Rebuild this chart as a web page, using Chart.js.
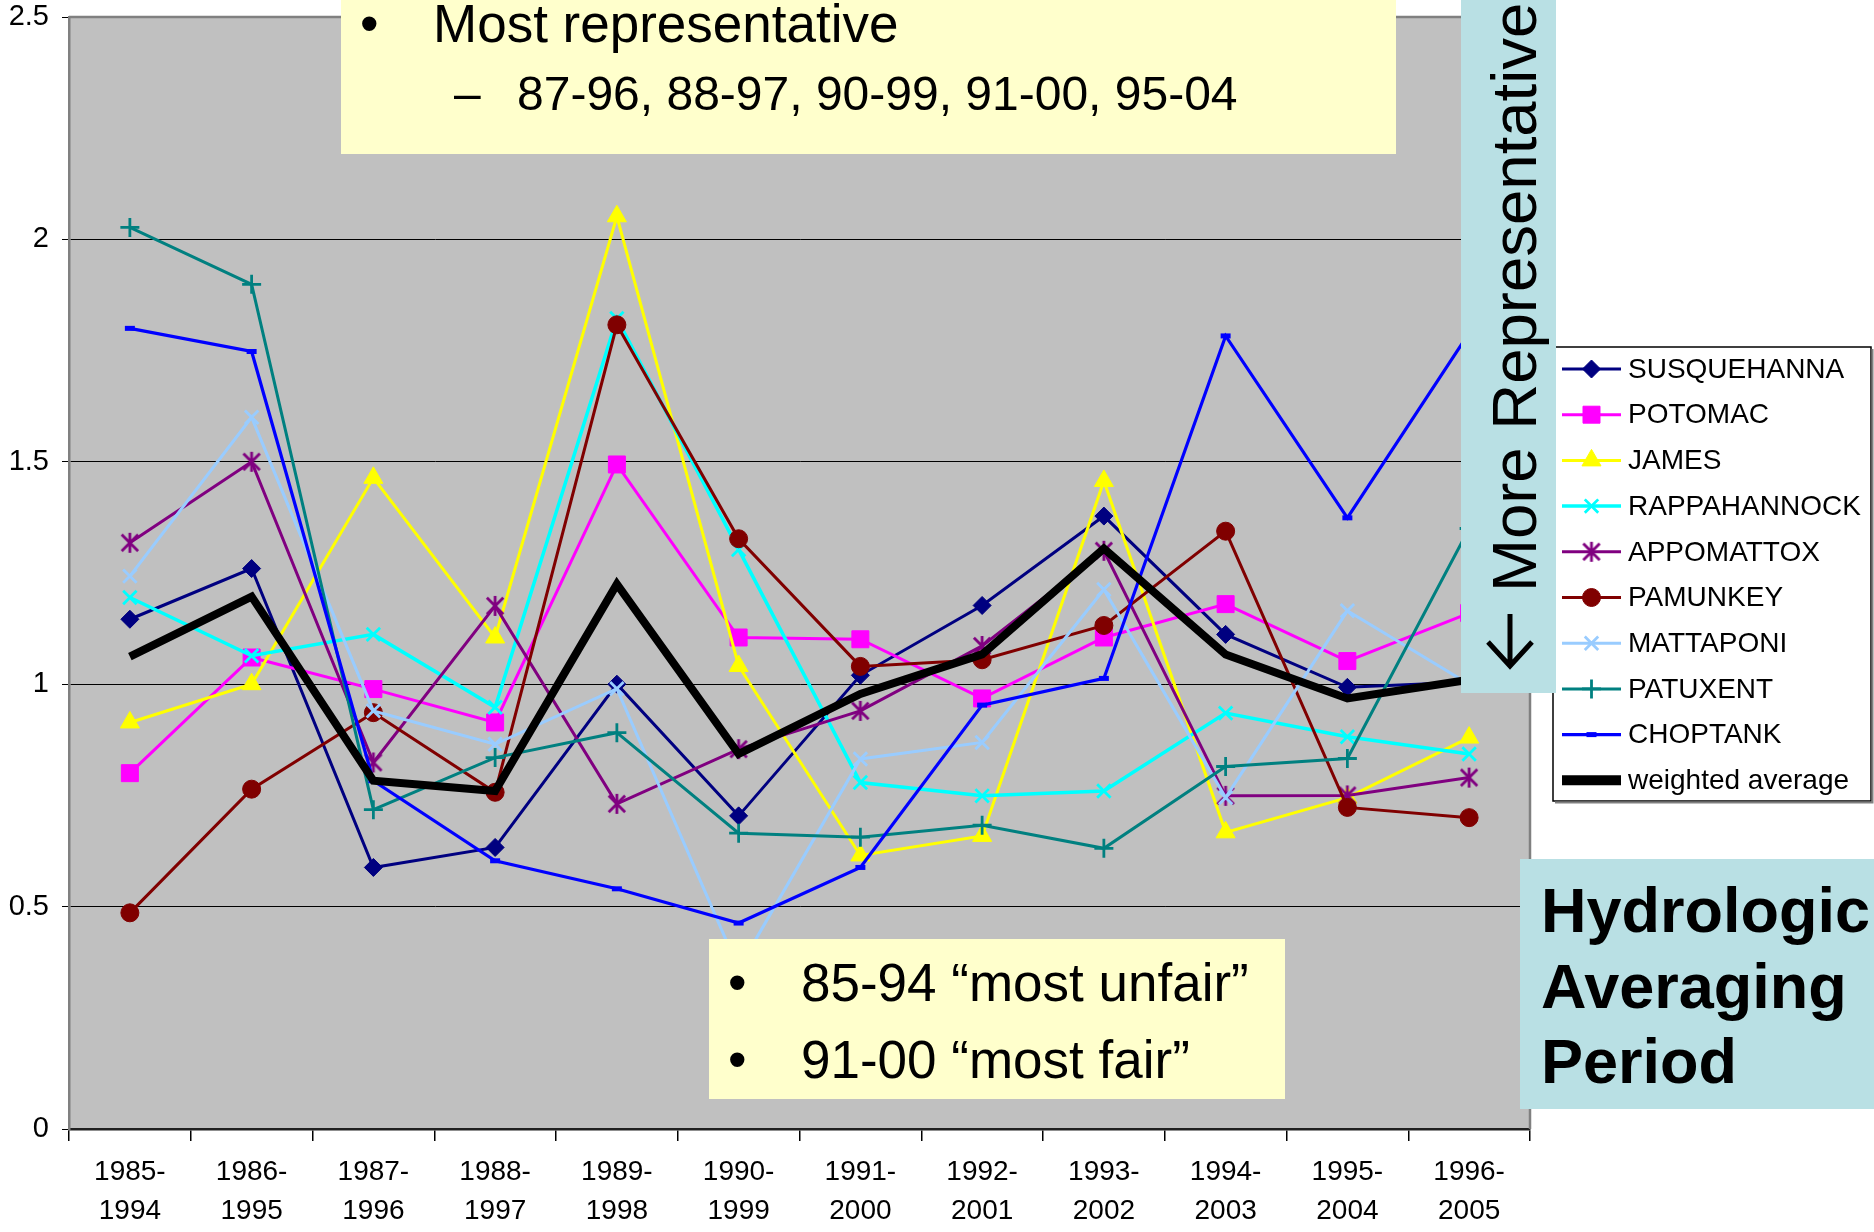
<!DOCTYPE html>
<html>
<head>
<meta charset="utf-8">
<script src="https://cdn.jsdelivr.net/npm/chart.js"></script>
<style>
html,body{margin:0;padding:0;background:#ffffff;}
#wrap{width:1874px;height:1232px;position:relative;overflow:hidden;}
canvas{display:block;}
</style>
</head>
<body>
<div id="wrap"><canvas id="c" width="1874" height="1232"></canvas></div>
<script>
// ---------------- DATA ----------------
const categories = [
  ['1985-','1994'],['1986-','1995'],['1987-','1996'],['1988-','1997'],
  ['1989-','1998'],['1990-','1999'],['1991-','2000'],['1992-','2001'],
  ['1993-','2002'],['1994-','2003'],['1995-','2004'],['1996-','2005']
];
const seriesNames = ['SUSQUEHANNA','POTOMAC','JAMES','RAPPAHANNOCK','APPOMATTOX','PAMUNKEY','MATTAPONI','PATUXENT','CHOPTANK','weighted average'];
const susquehanna  = [1.146, 1.260, 0.588, 0.633, 1.000, 0.704, 1.020, 1.177, 1.378, 1.112, 0.993, 1.005];
const potomac      = [0.800, 1.060, 0.989, 0.914, 1.494, 1.105, 1.101, 0.968, 1.105, 1.180, 1.052, 1.160];
const james        = [0.914, 1.000, 1.464, 1.105, 2.052, 1.041, 0.615, 0.659, 1.457, 0.667, 0.745, 0.880];
const rappahannock = [1.195, 1.064, 1.112, 0.948, 1.822, 1.303, 0.779, 0.749, 0.760, 0.935, 0.882, 0.843];
const appomattox   = [1.318, 1.500, 0.824, 1.176, 0.731, 0.854, 0.940, 1.086, 1.300, 0.749, 0.750, 0.790];
const pamunkey     = [0.486, 0.764, 0.936, 0.757, 1.808, 1.327, 1.040, 1.055, 1.132, 1.344, 0.723, 0.700];
const mattaponi    = [1.243, 1.600, 0.940, 0.865, 0.990, 0.360, 0.832, 0.869, 1.213, 0.745, 1.165, 1.000];
const patuxent     = [2.027, 1.899, 0.718, 0.835, 0.891, 0.665, 0.656, 0.683, 0.631, 0.815, 0.833, 1.350];
const choptank     = [1.800, 1.748, 0.783, 0.603, 0.540, 0.463, 0.588, 0.953, 1.013, 1.783, 1.374, 1.790];
const weightedAverage = [1.062, 1.197, 0.783, 0.760, 1.225, 0.843, 0.978, 1.067, 1.305, 1.067, 0.968, 1.010];
const yTicks = {min: 0, max: 2.5, step: 0.5};

const topNoteLines = ['Most representative', '87-96, 88-97, 90-99, 91-00, 95-04'];
const bottomNoteLines = ['85-94 \u201cmost unfair\u201d', '91-00 \u201cmost fair\u201d'];
const sideNote = 'More Representative';
const cornerNote = ['Hydrologic', 'Averaging', 'Period'];

// ---------------- STYLE ----------------
const FONT = "'Liberation Sans', Arial, Helvetica, sans-serif";

function asteriskImage(color, r, lw) {
  const s = Math.ceil(r * 2 + lw * 2);
  const cv = document.createElement('canvas');
  cv.width = s; cv.height = s;
  const g = cv.getContext('2d');
  const c = s / 2, d = r * 0.82;
  g.strokeStyle = color; g.lineWidth = lw; g.lineCap = 'butt';
  g.beginPath();
  g.moveTo(c - d, c - d); g.lineTo(c + d, c + d);
  g.moveTo(c + d, c - d); g.lineTo(c - d, c + d);
  g.moveTo(c, c - r); g.lineTo(c, c + r);
  g.stroke();
  return cv;
}

const styles = [
  {color:'#000080', point:'rectRot',  r:9,   bw:1,   lw:3},
  {color:'#FF00FF', point:'rect',     r:12,  bw:1,   lw:3},
  {color:'#FFFF00', point:'triangle', r:11,  bw:1,   lw:3},
  {color:'#00FFFF', point:'crossRot', r:9.5, bw:2.8, lw:3.5},
  {color:'#800080', point:asteriskImage('#800080', 10, 2.8), r:10, bw:2.8, lw:3},
  {color:'#800000', point:'circle',   r:9,   bw:1,   lw:3},
  {color:'#99CCFF', point:'crossRot', r:9.5, bw:2.8, lw:3},
  {color:'#008080', point:'cross',    r:9.5, bw:2.8, lw:3},
  {color:'#0000FF', point:'line',     r:5,   bw:5,   lw:3.2},
  {color:'#000000', point:false,      r:0,   bw:0,   lw:8}
];

const seriesData = [susquehanna, potomac, james, rappahannock, appomattox, pamunkey, mattaponi, patuxent, choptank, weightedAverage];

const datasets = seriesData.map((d, i) => ({
  label: seriesNames[i],
  data: d,
  borderColor: styles[i].color,
  backgroundColor: styles[i].color,
  borderWidth: styles[i].lw,
  pointStyle: styles[i].point,
  pointRadius: styles[i].r,
  pointHoverRadius: styles[i].r,
  pointBackgroundColor: styles[i].color,
  pointBorderColor: styles[i].color,
  pointBorderWidth: styles[i].bw,
  tension: 0,
  fill: false,
  order: seriesData.length - i
}));

// ---------------- PLUGINS ----------------
const plotBg = {
  id: 'plotBg',
  beforeDraw(chart) {
    const {ctx, chartArea: a} = chart;
    ctx.save();
    ctx.fillStyle = '#C0C0C0';
    ctx.fillRect(a.left, a.top, a.right - a.left, a.bottom - a.top);
    ctx.restore();
  },
  beforeDatasetsDraw(chart) {
    const {ctx, chartArea: a} = chart;
    ctx.save();
    ctx.strokeStyle = '#808080';
    ctx.lineWidth = 2.5;
    ctx.beginPath();
    ctx.moveTo(a.left, a.top);
    ctx.lineTo(a.right, a.top);
    ctx.lineTo(a.right, a.bottom);
    ctx.stroke();
    ctx.restore();
  }
};

function drawMarker(ctx, ds, x, y) {
  if (!ds.pointRadius) return;
  ctx.fillStyle = ds.pointBackgroundColor;
  ctx.strokeStyle = ds.pointBorderColor;
  ctx.lineWidth = ds.pointBorderWidth;
  if (Chart.helpers && Chart.helpers.drawPoint) {
    Chart.helpers.drawPoint(ctx, {pointStyle: ds.pointStyle, radius: ds.pointRadius, borderWidth: ds.pointBorderWidth, rotation: 0}, x, y);
  }
}

const overlays = {
  id: 'overlays',
  afterDraw(chart) {
    const ctx = chart.ctx;
    ctx.save();

    // ---- legend box ----
    const L = {x: 1553, y: 347, w: 318, h: 454, row0: 369, rowH: 45.7, l0: 1562, l1: 1621, tx: 1628};
    ctx.fillStyle = '#ffffff';
    ctx.fillRect(L.x, L.y, L.w, L.h);
    ctx.strokeStyle = '#000000';
    ctx.lineWidth = 1.5;
    ctx.strokeRect(L.x, L.y, L.w, L.h);
    ctx.strokeStyle = '#808080';
    ctx.lineWidth = 2;
    ctx.beginPath();
    ctx.moveTo(L.x + L.w + 1.5, L.y + 2); ctx.lineTo(L.x + L.w + 1.5, L.y + L.h + 1.5); ctx.lineTo(L.x + 2, L.y + L.h + 1.5);
    ctx.stroke();
    chart.data.datasets.forEach((ds, i) => {
      const y = L.row0 + i * L.rowH;
      ctx.strokeStyle = ds.borderColor;
      ctx.lineWidth = ds.pointRadius ? ds.borderWidth : ds.borderWidth + 2;
      ctx.lineCap = 'butt';
      ctx.beginPath();
      ctx.moveTo(L.l0, y); ctx.lineTo(L.l1, y);
      ctx.stroke();
      drawMarker(ctx, ds, (L.l0 + L.l1) / 2, y);
      ctx.fillStyle = '#000000';
      ctx.font = '28px ' + FONT;
      ctx.textAlign = 'left';
      ctx.textBaseline = 'middle';
      ctx.fillText(ds.label, L.tx, y + 1);
    });

    // ---- vertical blue note ----
    ctx.fillStyle = '#B9E0E4';
    ctx.fillRect(1461, 0, 95, 693);
    ctx.save();
    ctx.beginPath(); ctx.rect(1461, 0, 95, 693); ctx.clip();
    ctx.strokeStyle = '#000000';
    ctx.lineWidth = 5;
    ctx.lineCap = 'butt';
    ctx.beginPath();
    ctx.moveTo(1510, 614); ctx.lineTo(1510, 665);
    ctx.moveTo(1488, 642); ctx.lineTo(1510, 666); ctx.lineTo(1532, 642);
    ctx.stroke();
    ctx.translate(1536, 592);
    ctx.rotate(-Math.PI / 2);
    ctx.fillStyle = '#000000';
    ctx.font = '63.5px ' + FONT;
    ctx.textAlign = 'left';
    ctx.textBaseline = 'alphabetic';
    ctx.fillText(sideNote, 0, 0);
    ctx.restore();

    // ---- top yellow note ----
    ctx.fillStyle = '#FFFFCC';
    ctx.fillRect(341, 0, 1055, 154);
    ctx.fillStyle = '#000000';
    ctx.textAlign = 'left';
    ctx.textBaseline = 'alphabetic';
    ctx.font = '53px ' + FONT;
    ctx.fillText('\u2022', 360, 42);
    ctx.fillText(topNoteLines[0], 433, 42);
    ctx.font = '48px ' + FONT;
    ctx.fillText('\u2013', 454, 110);
    ctx.fillText(topNoteLines[1], 517, 110);

    // ---- bottom yellow note ----
    ctx.fillStyle = '#FFFFCC';
    ctx.fillRect(709, 939, 576, 160);
    ctx.fillStyle = '#000000';
    ctx.font = '53px ' + FONT;
    ctx.fillText('\u2022', 728, 1001);
    ctx.fillText(bottomNoteLines[0], 801, 1001);
    ctx.fillText('\u2022', 728, 1078);
    ctx.fillText(bottomNoteLines[1], 801, 1078);

    // ---- corner blue note ----
    ctx.fillStyle = '#B9E0E4';
    ctx.fillRect(1520, 859, 354, 250);
    ctx.fillStyle = '#000000';
    ctx.font = 'bold 63px ' + FONT;
    ctx.fillText(cornerNote[0], 1541, 932);
    ctx.fillText(cornerNote[1], 1541, 1008);
    ctx.fillText(cornerNote[2], 1541, 1083);

    ctx.restore();
  }
};

// ---------------- CHART ----------------
new Chart(document.getElementById('c'), {
  type: 'line',
  data: {labels: categories, datasets: datasets},
  options: {
    responsive: false,
    devicePixelRatio: 1,
    animation: false,
    events: [],
    layout: {padding: {top: 17, right: 344, bottom: 0, left: 0}},
    plugins: {legend: {display: false}, tooltip: {enabled: false}},
    scales: {
      x: {
        type: 'category',
        offset: true,
        grid: {display: true, drawOnChartArea: false, drawTicks: true, tickLength: 12, offset: true, color: '#000000', lineWidth: 1.5},
        border: {display: true, color: '#202020', width: 2.5},
        ticks: {color: '#000000', font: {family: FONT, size: 28, lineHeight: 1.39}, padding: 12, maxRotation: 0, autoSkip: false},
        afterFit(scale) { scale.height = 103; scale.paddingLeft = 0; scale.paddingRight = 0; }
      },
      y: {
        min: yTicks.min,
        max: yTicks.max,
        grid: {color: '#000000', lineWidth: 1, drawTicks: true, tickLength: 7, tickColor: '#000000'},
        border: {display: true, color: '#808080', width: 2.5},
        ticks: {stepSize: yTicks.step, color: '#000000', font: {family: FONT, size: 29}, padding: 13,
                callback: (v) => String(Math.round(v * 10) / 10)},
        afterFit(scale) { scale.width = 69; scale.paddingTop = 0; scale.paddingBottom = 0; }
      }
    }
  },
  plugins: [plotBg, overlays]
});
</script>
</body>
</html>
